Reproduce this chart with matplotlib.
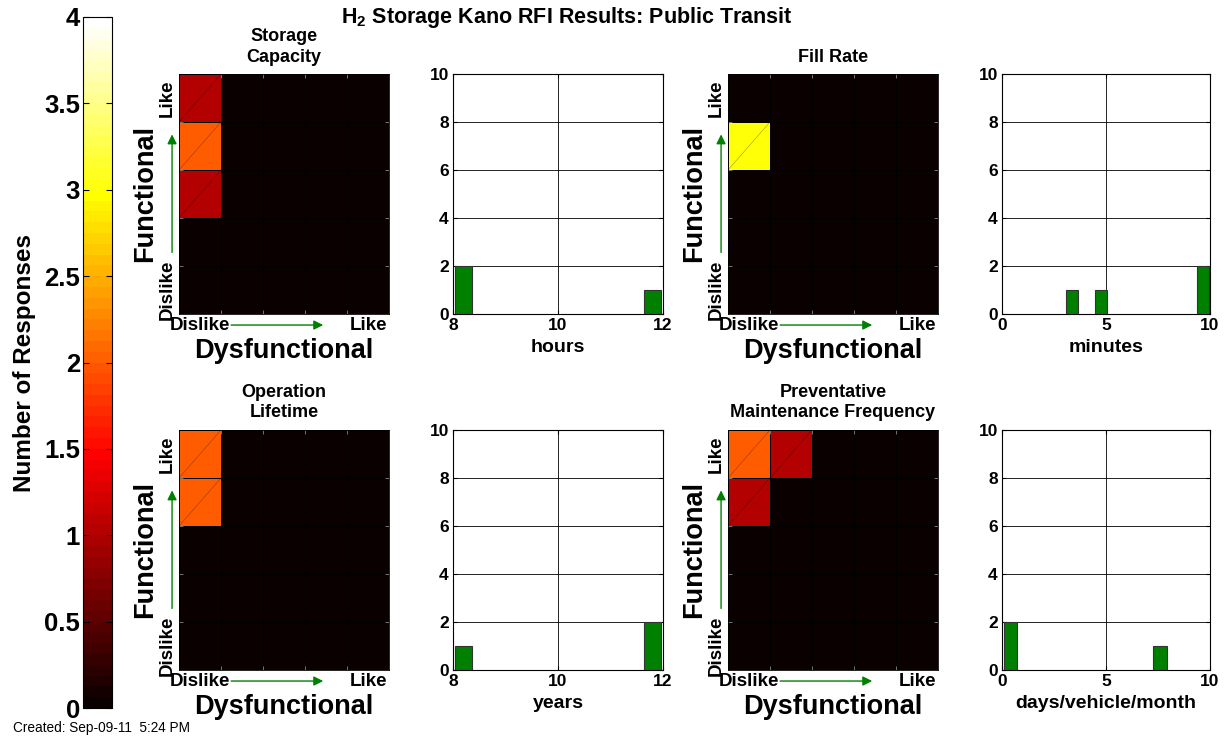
import numpy as np
import matplotlib
matplotlib.use('Agg')
from matplotlib import pyplot as plt
from matplotlib.cm import ScalarMappable
from matplotlib.colors import Normalize

plt.rcParams['font.family'] = ['Liberation Sans', 'DejaVu Sans']
plt.rcParams['mathtext.fontset'] = 'custom'
plt.rcParams['mathtext.bf'] = 'Liberation Sans:bold'
plt.rcParams['mathtext.rm'] = 'Liberation Sans'

# Kano grids: rows = Functional (Like -> Dislike, top to bottom),
# cols = Dysfunctional (Dislike -> Like)
storage_grid = [[1, 0, 0, 0, 0],
                [2, 0, 0, 0, 0],
                [1, 0, 0, 0, 0],
                [0, 0, 0, 0, 0],
                [0, 0, 0, 0, 0]]
fill_grid = [[0, 0, 0, 0, 0],
             [3, 0, 0, 0, 0],
             [0, 0, 0, 0, 0],
             [0, 0, 0, 0, 0],
             [0, 0, 0, 0, 0]]
lifetime_grid = [[2, 0, 0, 0, 0],
                 [2, 0, 0, 0, 0],
                 [0, 0, 0, 0, 0],
                 [0, 0, 0, 0, 0],
                 [0, 0, 0, 0, 0]]
maint_grid = [[2, 1, 0, 0, 0],
              [1, 0, 0, 0, 0],
              [0, 0, 0, 0, 0],
              [0, 0, 0, 0, 0],
              [0, 0, 0, 0, 0]]

# histogram bars (bin centres, counts, bar width)
hours_centers = [8.2, 11.8]
hours_counts = [2, 1]
hours_width = 0.32
minutes_centers = [3.35, 4.75, 9.65]
minutes_counts = [1, 1, 2]
minutes_width = 0.56
years_centers = [8.2, 11.8]
years_counts = [1, 2]
years_width = 0.32
days_centers = [0.4, 7.6]
days_counts = [2, 1]
days_width = 0.64

W, H = 1225.0, 740.0


def px_axes(fig, x0, y0, x1, y1):
    return fig.add_axes([x0 / W, 1 - y1 / H, (x1 - x0) / W, (y1 - y0) / H])


def kano_panel(ax, grid, title):
    grid = np.array(grid)
    ax.pcolormesh(np.arange(6), np.arange(6), grid, cmap='hot', vmin=0, vmax=4,
                  edgecolors='black', linewidth=0.7)
    # faint diagonal seams seen in the coloured cells
    for i in range(5):
        for j in range(5):
            if grid[i, j] > 0:
                ax.plot([j, j + 1], [i + 1, i], color='black', lw=0.3, alpha=0.5)
    ax.set_xlim(0, 5)
    ax.set_ylim(5, 0)
    ax.set_xticks([0.5, 4.5])
    ax.set_xticklabels(['Dislike', 'Like'], fontsize=13.5, fontweight='bold')
    ax.set_yticks([0.5, 4.5])
    ax.set_yticklabels(['Like', 'Dislike'], fontsize=13.5, fontweight='bold',
                       rotation=90, va='center')
    ax.tick_params(length=0, pad=2)
    ax.set_xticks([1, 2, 3, 4], minor=True)
    ax.set_yticks([1, 2, 3, 4], minor=True)
    ax.tick_params(which='minor', direction='in', length=3, color='#888888',
                   top=True, right=True)
    for s in ax.spines.values():
        s.set_linewidth(0.6)
    ax.set_xlabel('Dysfunctional', fontsize=19.5, fontweight='bold')
    ax.xaxis.set_label_coords(0.5, -0.1)
    ax.set_ylabel('Functional', fontsize=19.5, fontweight='bold')
    ax.yaxis.set_label_coords(-0.1, 0.5)
    ax.set_title(title, fontsize=13, fontweight='bold', pad=9, linespacing=1.25)
    ax.annotate('', xy=(0.7, -0.046), xytext=(0.235, -0.046), xycoords='axes fraction',
                arrowprops=dict(arrowstyle='-|>', color='green', lw=1,
                                mutation_scale=14), annotation_clip=False)
    ax.annotate('', xy=(-0.033, 0.76), xytext=(-0.033, 0.245), xycoords='axes fraction',
                arrowprops=dict(arrowstyle='-|>', color='green', lw=1,
                                mutation_scale=14), annotation_clip=False)


def hist_panel(ax, centers, counts, width, xlim, xticks, xlabel):
    ax.bar(centers, counts, width=width, color='#008000', edgecolor='#333333',
           linewidth=0.8, zorder=3)
    ax.set_xlim(xlim)
    ax.set_ylim(0, 10)
    ax.set_xticks(xticks)
    ax.set_yticks(range(0, 11, 2))
    ax.grid(True, color='black', linewidth=0.6, zorder=0)
    ax.set_axisbelow(True)
    ax.tick_params(direction='in', length=3, labelsize=12.5, pad=3, top=True, right=True)
    for lab in ax.get_xticklabels() + ax.get_yticklabels():
        lab.set_fontweight('bold')
    for s in ax.spines.values():
        s.set_linewidth(0.8)
    ax.set_xlabel(xlabel, fontsize=14, fontweight='bold', labelpad=4)


fig = plt.figure(figsize=(12.25, 7.4), dpi=100)

ax1 = px_axes(fig, 179, 74, 389, 314)
kano_panel(ax1, storage_grid, 'Storage\nCapacity')
ax2 = px_axes(fig, 453, 74, 663, 314)
hist_panel(ax2, hours_centers, hours_counts, hours_width, (8, 12), [8, 10, 12], 'hours')
ax3 = px_axes(fig, 728, 74, 938, 314)
kano_panel(ax3, fill_grid, 'Fill Rate')
ax4 = px_axes(fig, 1002, 74, 1210, 314)
hist_panel(ax4, minutes_centers, minutes_counts, minutes_width, (0, 10), [0, 5, 10], 'minutes')

ax5 = px_axes(fig, 179, 430, 389, 670)
kano_panel(ax5, lifetime_grid, 'Operation\nLifetime')
ax6 = px_axes(fig, 453, 430, 663, 670)
hist_panel(ax6, years_centers, years_counts, years_width, (8, 12), [8, 10, 12], 'years')
ax7 = px_axes(fig, 728, 430, 938, 670)
kano_panel(ax7, maint_grid, 'Preventative\nMaintenance Frequency')
ax8 = px_axes(fig, 1002, 430, 1210, 670)
hist_panel(ax8, days_centers, days_counts, days_width, (0, 10), [0, 5, 10], 'days/vehicle/month')

# colorbar
cax = px_axes(fig, 83, 17, 112, 708)
sm = ScalarMappable(norm=Normalize(0, 4), cmap=plt.get_cmap('hot', 64))
cb = fig.colorbar(sm, cax=cax, ticks=np.arange(0, 4.01, 0.5))
cb.ax.yaxis.set_ticks_position('both')
cb.ax.yaxis.set_label_position('left')
cb.ax.set_yticklabels(['0', '0.5', '1', '1.5', '2', '2.5', '3', '3.5', '4'],
                      fontsize=18.5, fontweight='bold')
cb.ax.tick_params(direction='in', length=4, pad=2, labelleft=True, labelright=False)
cb.outline.set_linewidth(0.8)
cb.set_label('Number of Responses', fontsize=17.5, fontweight='bold')
cb.ax.yaxis.set_label_coords(-1.62, 0.5)

fig.text(567 / W, 1 - 18 / H, r'$\mathbf{H_2}$ Storage Kano RFI Results: Public Transit',
         ha='center', va='center', fontsize=15.5, fontweight='bold')
fig.text(13 / W, 1 - 728 / H, 'Created: Sep-09-11  5:24 PM', fontsize=9.8,
         ha='left', va='center')

fig.savefig('out.png', dpi=100)
